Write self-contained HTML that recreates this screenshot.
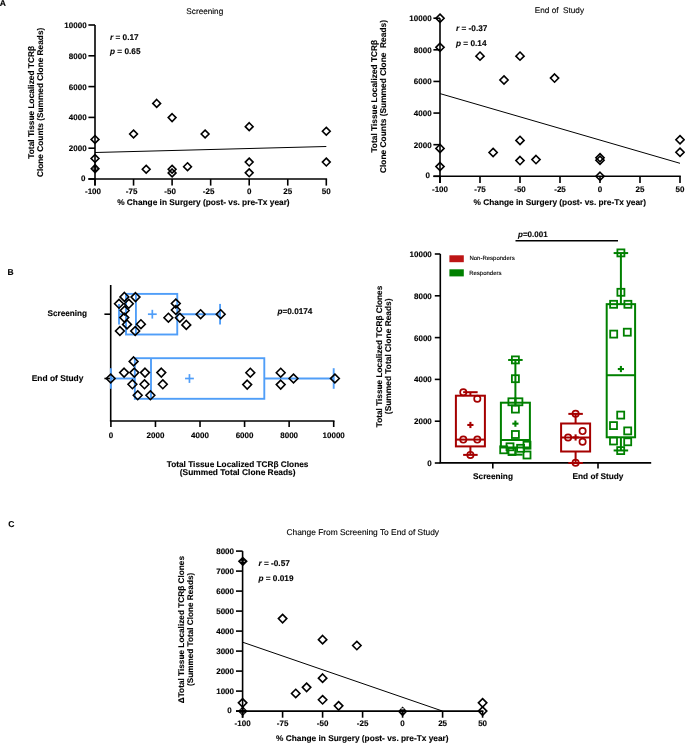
<!DOCTYPE html>
<html><head><meta charset="utf-8"><style>
html,body{margin:0;padding:0;background:#fff;}
svg{display:block;font-family:"Liberation Sans", sans-serif;will-change:transform;text-rendering:geometricPrecision;}
text{fill:#000;stroke:#000;stroke-width:0.12px;}
</style></head><body>
<svg width="685" height="743" viewBox="0 0 685 743">
<rect width="685" height="743" fill="#fff"/>
<text x="-0.3" y="5.6" font-size="8.5" font-weight="bold">A</text>
<line x1="95.00" y1="25.00" x2="95.00" y2="185.60" stroke="#000" stroke-width="1.6" stroke-linecap="butt"/>
<line x1="88.40" y1="179.00" x2="327.10" y2="179.00" stroke="#000" stroke-width="1.6" stroke-linecap="butt"/>
<line x1="88.40" y1="179.00" x2="95.00" y2="179.00" stroke="#000" stroke-width="1.6" stroke-linecap="butt"/>
<text x="85.40" y="181.30" font-size="8" font-weight="bold" text-anchor="end" >0</text>
<line x1="88.40" y1="148.20" x2="95.00" y2="148.20" stroke="#000" stroke-width="1.6" stroke-linecap="butt"/>
<text x="86.60" y="151.10" font-size="8" font-weight="bold" text-anchor="end" >2000</text>
<line x1="88.40" y1="117.40" x2="95.00" y2="117.40" stroke="#000" stroke-width="1.6" stroke-linecap="butt"/>
<text x="86.60" y="120.30" font-size="8" font-weight="bold" text-anchor="end" >4000</text>
<line x1="88.40" y1="86.60" x2="95.00" y2="86.60" stroke="#000" stroke-width="1.6" stroke-linecap="butt"/>
<text x="86.60" y="89.50" font-size="8" font-weight="bold" text-anchor="end" >6000</text>
<line x1="88.40" y1="55.80" x2="95.00" y2="55.80" stroke="#000" stroke-width="1.6" stroke-linecap="butt"/>
<text x="86.60" y="58.70" font-size="8" font-weight="bold" text-anchor="end" >8000</text>
<line x1="88.40" y1="25.00" x2="95.00" y2="25.00" stroke="#000" stroke-width="1.6" stroke-linecap="butt"/>
<text x="86.60" y="27.90" font-size="8" font-weight="bold" text-anchor="end" >10000</text>
<line x1="95.00" y1="179.00" x2="95.00" y2="185.60" stroke="#000" stroke-width="1.6" stroke-linecap="butt"/>
<text x="93.00" y="193.50" font-size="8" font-weight="bold" text-anchor="middle" >-100</text>
<line x1="133.55" y1="179.00" x2="133.55" y2="185.60" stroke="#000" stroke-width="1.6" stroke-linecap="butt"/>
<text x="131.55" y="193.50" font-size="8" font-weight="bold" text-anchor="middle" >-75</text>
<line x1="172.10" y1="179.00" x2="172.10" y2="185.60" stroke="#000" stroke-width="1.6" stroke-linecap="butt"/>
<text x="170.10" y="193.50" font-size="8" font-weight="bold" text-anchor="middle" >-50</text>
<line x1="210.65" y1="179.00" x2="210.65" y2="185.60" stroke="#000" stroke-width="1.6" stroke-linecap="butt"/>
<text x="208.65" y="193.50" font-size="8" font-weight="bold" text-anchor="middle" >-25</text>
<line x1="249.20" y1="179.00" x2="249.20" y2="185.60" stroke="#000" stroke-width="1.6" stroke-linecap="butt"/>
<text x="249.20" y="193.50" font-size="8" font-weight="bold" text-anchor="middle" >0</text>
<line x1="287.75" y1="179.00" x2="287.75" y2="185.60" stroke="#000" stroke-width="1.6" stroke-linecap="butt"/>
<text x="287.75" y="193.50" font-size="8" font-weight="bold" text-anchor="middle" >25</text>
<line x1="326.30" y1="179.00" x2="326.30" y2="185.60" stroke="#000" stroke-width="1.6" stroke-linecap="butt"/>
<text x="326.30" y="193.50" font-size="8" font-weight="bold" text-anchor="middle" >50</text>
<text x="117.20" y="204.80" font-size="8.3" font-weight="bold" text-anchor="start" >% Change in Surgery (post- vs. pre-Tx year)</text>
<text x="204.80" y="13.90" font-size="8.2" font-weight="normal" text-anchor="middle" >Screening</text>
<text x="0" y="0" font-size="8.35" font-weight="bold" text-anchor="middle" transform="translate(34.10,102.30) rotate(-90)">Total Tissue Localized TCRβ</text>
<text x="0" y="0" font-size="8.3" font-weight="bold" text-anchor="middle" transform="translate(42.90,102.40) rotate(-90)">Clone Counts (Summed Clone Reads)</text>
<text x="110.00" y="39.80" font-size="8.25" font-weight="bold" text-anchor="start" ><tspan font-style="italic">r</tspan> = 0.17</text>
<text x="110.00" y="54.30" font-size="8.25" font-weight="bold" text-anchor="start" ><tspan font-style="italic">p</tspan> = 0.65</text>
<line x1="95.00" y1="152.50" x2="326.30" y2="146.50" stroke="#000" stroke-width="1.0" stroke-linecap="butt"/>
<path d="M95.10 163.60L100.00 168.70L95.10 173.80L90.20 168.70Z" fill="#000"/>
<rect x="92.60" y="167.50" width="1.6" height="2.2" fill="#777"/>
<rect x="96.00" y="167.50" width="1.2" height="2.2" fill="#999"/>
<path d="M95.00 135.51L98.90 139.41L95.00 143.31L91.10 139.41Z" fill="none" stroke="#000" stroke-width="1.6" stroke-linejoin="miter"/>
<path d="M95.00 154.60L98.90 158.50L95.00 162.40L91.10 158.50Z" fill="none" stroke="#000" stroke-width="1.6" stroke-linejoin="miter"/>
<path d="M133.55 130.10L137.45 134.00L133.55 137.90L129.65 134.00Z" fill="none" stroke="#000" stroke-width="1.6" stroke-linejoin="miter"/>
<path d="M146.19 165.31L150.09 169.21L146.19 173.11L142.29 169.21Z" fill="none" stroke="#000" stroke-width="1.6" stroke-linejoin="miter"/>
<path d="M156.68 99.50L160.58 103.40L156.68 107.30L152.78 103.40Z" fill="none" stroke="#000" stroke-width="1.6" stroke-linejoin="miter"/>
<path d="M172.10 113.70L176.00 117.60L172.10 121.50L168.20 117.60Z" fill="none" stroke="#000" stroke-width="1.6" stroke-linejoin="miter"/>
<path d="M172.10 165.31L176.00 169.21L172.10 173.11L168.20 169.21Z" fill="none" stroke="#000" stroke-width="1.6" stroke-linejoin="miter"/>
<path d="M172.10 169.00L176.00 172.90L172.10 176.80L168.20 172.90Z" fill="none" stroke="#000" stroke-width="1.6" stroke-linejoin="miter"/>
<path d="M187.52 162.80L191.42 166.70L187.52 170.60L183.62 166.70Z" fill="none" stroke="#000" stroke-width="1.6" stroke-linejoin="miter"/>
<path d="M205.10 130.10L209.00 134.00L205.10 137.90L201.20 134.00Z" fill="none" stroke="#000" stroke-width="1.6" stroke-linejoin="miter"/>
<path d="M249.20 122.74L253.10 126.64L249.20 130.54L245.30 126.64Z" fill="none" stroke="#000" stroke-width="1.6" stroke-linejoin="miter"/>
<path d="M249.20 158.16L253.10 162.06L249.20 165.96L245.30 162.06Z" fill="none" stroke="#000" stroke-width="1.6" stroke-linejoin="miter"/>
<path d="M249.20 168.94L253.10 172.84L249.20 176.74L245.30 172.84Z" fill="none" stroke="#000" stroke-width="1.6" stroke-linejoin="miter"/>
<path d="M326.30 127.36L330.20 131.26L326.30 135.16L322.40 131.26Z" fill="none" stroke="#000" stroke-width="1.6" stroke-linejoin="miter"/>
<path d="M326.30 158.16L330.20 162.06L326.30 165.96L322.40 162.06Z" fill="none" stroke="#000" stroke-width="1.6" stroke-linejoin="miter"/>
<line x1="440.00" y1="18.20" x2="440.00" y2="182.90" stroke="#000" stroke-width="1.6" stroke-linecap="butt"/>
<line x1="433.40" y1="176.30" x2="680.80" y2="176.30" stroke="#000" stroke-width="1.6" stroke-linecap="butt"/>
<line x1="433.40" y1="176.30" x2="440.00" y2="176.30" stroke="#000" stroke-width="1.6" stroke-linecap="butt"/>
<text x="429.90" y="178.40" font-size="8" font-weight="bold" text-anchor="end" >0</text>
<line x1="433.40" y1="144.68" x2="440.00" y2="144.68" stroke="#000" stroke-width="1.6" stroke-linecap="butt"/>
<text x="431.60" y="147.58" font-size="8" font-weight="bold" text-anchor="end" >2000</text>
<line x1="433.40" y1="113.06" x2="440.00" y2="113.06" stroke="#000" stroke-width="1.6" stroke-linecap="butt"/>
<text x="431.60" y="115.96" font-size="8" font-weight="bold" text-anchor="end" >4000</text>
<line x1="433.40" y1="81.44" x2="440.00" y2="81.44" stroke="#000" stroke-width="1.6" stroke-linecap="butt"/>
<text x="431.60" y="84.34" font-size="8" font-weight="bold" text-anchor="end" >6000</text>
<line x1="433.40" y1="49.82" x2="440.00" y2="49.82" stroke="#000" stroke-width="1.6" stroke-linecap="butt"/>
<text x="431.60" y="52.72" font-size="8" font-weight="bold" text-anchor="end" >8000</text>
<line x1="433.40" y1="18.20" x2="440.00" y2="18.20" stroke="#000" stroke-width="1.6" stroke-linecap="butt"/>
<text x="431.60" y="21.10" font-size="8" font-weight="bold" text-anchor="end" >10000</text>
<line x1="440.00" y1="176.30" x2="440.00" y2="182.90" stroke="#000" stroke-width="1.6" stroke-linecap="butt"/>
<text x="440.00" y="191.70" font-size="8" font-weight="bold" text-anchor="middle" >-100</text>
<line x1="480.00" y1="176.30" x2="480.00" y2="182.90" stroke="#000" stroke-width="1.6" stroke-linecap="butt"/>
<text x="480.00" y="191.70" font-size="8" font-weight="bold" text-anchor="middle" >-75</text>
<line x1="520.00" y1="176.30" x2="520.00" y2="182.90" stroke="#000" stroke-width="1.6" stroke-linecap="butt"/>
<text x="520.00" y="191.70" font-size="8" font-weight="bold" text-anchor="middle" >-50</text>
<line x1="560.00" y1="176.30" x2="560.00" y2="182.90" stroke="#000" stroke-width="1.6" stroke-linecap="butt"/>
<text x="560.00" y="191.70" font-size="8" font-weight="bold" text-anchor="middle" >-25</text>
<line x1="600.00" y1="176.30" x2="600.00" y2="182.90" stroke="#000" stroke-width="1.6" stroke-linecap="butt"/>
<text x="600.00" y="191.70" font-size="8" font-weight="bold" text-anchor="middle" >0</text>
<line x1="640.00" y1="176.30" x2="640.00" y2="182.90" stroke="#000" stroke-width="1.6" stroke-linecap="butt"/>
<text x="640.00" y="191.70" font-size="8" font-weight="bold" text-anchor="middle" >25</text>
<line x1="680.00" y1="176.30" x2="680.00" y2="182.90" stroke="#000" stroke-width="1.6" stroke-linecap="butt"/>
<text x="680.00" y="191.70" font-size="8" font-weight="bold" text-anchor="middle" >50</text>
<text x="473.60" y="204.70" font-size="8.3" font-weight="bold" text-anchor="start" >% Change in Surgery (post- vs. pre-Tx year)</text>
<text x="559.40" y="12.80" font-size="8.2" font-weight="normal" text-anchor="middle" >End of &#160;Study</text>
<text x="0" y="0" font-size="8.35" font-weight="bold" text-anchor="middle" transform="translate(376.50,96.20) rotate(-90)">Total Tissue Localized TCRβ</text>
<text x="0" y="0" font-size="8.4" font-weight="bold" text-anchor="middle" transform="translate(385.60,96.55) rotate(-90)">Clone Counts (Summed Clone &#160;Reads)</text>
<text x="456.00" y="31.00" font-size="8.25" font-weight="bold" text-anchor="start" ><tspan font-style="italic">r</tspan> = -0.37</text>
<text x="456.00" y="46.30" font-size="8.25" font-weight="bold" text-anchor="start" ><tspan font-style="italic">p</tspan> = 0.14</text>
<line x1="440.00" y1="93.60" x2="680.00" y2="163.30" stroke="#000" stroke-width="1.0" stroke-linecap="butt"/>
<path d="M440.00 14.10L444.10 18.20L440.00 22.30L435.90 18.20Z" fill="none" stroke="#000" stroke-width="1.6" stroke-linejoin="miter"/>
<path d="M440.00 43.21L444.10 47.31L440.00 51.41L435.90 47.31Z" fill="none" stroke="#000" stroke-width="1.6" stroke-linejoin="miter"/>
<path d="M440.00 144.30L444.10 148.40L440.00 152.50L435.90 148.40Z" fill="none" stroke="#000" stroke-width="1.6" stroke-linejoin="miter"/>
<path d="M440.00 162.49L444.10 166.59L440.00 170.69L435.90 166.59Z" fill="none" stroke="#000" stroke-width="1.6" stroke-linejoin="miter"/>
<path d="M480.00 52.04L484.10 56.14L480.00 60.24L475.90 56.14Z" fill="none" stroke="#000" stroke-width="1.6" stroke-linejoin="miter"/>
<path d="M493.12 148.41L497.22 152.51L493.12 156.61L489.02 152.51Z" fill="none" stroke="#000" stroke-width="1.6" stroke-linejoin="miter"/>
<path d="M504.00 75.90L508.10 80.00L504.00 84.10L499.90 80.00Z" fill="none" stroke="#000" stroke-width="1.6" stroke-linejoin="miter"/>
<path d="M520.00 52.04L524.10 56.14L520.00 60.24L515.90 56.14Z" fill="none" stroke="#000" stroke-width="1.6" stroke-linejoin="miter"/>
<path d="M520.00 136.30L524.10 140.40L520.00 144.50L515.90 140.40Z" fill="none" stroke="#000" stroke-width="1.6" stroke-linejoin="miter"/>
<path d="M520.00 156.50L524.10 160.60L520.00 164.70L515.90 160.60Z" fill="none" stroke="#000" stroke-width="1.6" stroke-linejoin="miter"/>
<path d="M536.00 155.50L540.10 159.60L536.00 163.70L531.90 159.60Z" fill="none" stroke="#000" stroke-width="1.6" stroke-linejoin="miter"/>
<path d="M554.56 74.00L558.66 78.10L554.56 82.20L550.46 78.10Z" fill="none" stroke="#000" stroke-width="1.6" stroke-linejoin="miter"/>
<path d="M600.00 153.58L604.10 157.68L600.00 161.78L595.90 157.68Z" fill="none" stroke="#000" stroke-width="1.6" stroke-linejoin="miter"/>
<path d="M600.00 156.17L604.10 160.27L600.00 164.37L595.90 160.27Z" fill="none" stroke="#000" stroke-width="1.6" stroke-linejoin="miter"/>
<path d="M600.00 172.20L604.10 176.30L600.00 180.40L595.90 176.30Z" fill="none" stroke="#000" stroke-width="1.6" stroke-linejoin="miter"/>
<path d="M680.00 135.69L684.10 139.79L680.00 143.89L675.90 139.79Z" fill="none" stroke="#000" stroke-width="1.6" stroke-linejoin="miter"/>
<path d="M680.00 148.11L684.10 152.21L680.00 156.31L675.90 152.21Z" fill="none" stroke="#000" stroke-width="1.6" stroke-linejoin="miter"/>
<text x="7.40" y="274.90" font-size="8.5" font-weight="bold" text-anchor="start" >B</text>
<line x1="110.70" y1="285.00" x2="110.70" y2="421.00" stroke="#000" stroke-width="1.6" stroke-linecap="butt"/>
<line x1="109.90" y1="421.00" x2="334.50" y2="421.00" stroke="#000" stroke-width="1.6" stroke-linecap="butt"/>
<line x1="110.90" y1="421.00" x2="110.90" y2="427.00" stroke="#000" stroke-width="1.6" stroke-linecap="butt"/>
<text x="110.90" y="437.50" font-size="8" font-weight="bold" text-anchor="middle" >0</text>
<line x1="155.46" y1="421.00" x2="155.46" y2="427.00" stroke="#000" stroke-width="1.6" stroke-linecap="butt"/>
<text x="155.46" y="437.50" font-size="8" font-weight="bold" text-anchor="middle" >2000</text>
<line x1="200.02" y1="421.00" x2="200.02" y2="427.00" stroke="#000" stroke-width="1.6" stroke-linecap="butt"/>
<text x="200.02" y="437.50" font-size="8" font-weight="bold" text-anchor="middle" >4000</text>
<line x1="244.58" y1="421.00" x2="244.58" y2="427.00" stroke="#000" stroke-width="1.6" stroke-linecap="butt"/>
<text x="244.58" y="437.50" font-size="8" font-weight="bold" text-anchor="middle" >6000</text>
<line x1="289.14" y1="421.00" x2="289.14" y2="427.00" stroke="#000" stroke-width="1.6" stroke-linecap="butt"/>
<text x="289.14" y="437.50" font-size="8" font-weight="bold" text-anchor="middle" >8000</text>
<line x1="333.70" y1="421.00" x2="333.70" y2="427.00" stroke="#000" stroke-width="1.6" stroke-linecap="butt"/>
<text x="333.70" y="437.50" font-size="8" font-weight="bold" text-anchor="middle" >10000</text>
<line x1="104.40" y1="314.20" x2="110.70" y2="314.20" stroke="#000" stroke-width="1.6" stroke-linecap="butt"/>
<line x1="104.40" y1="378.50" x2="110.70" y2="378.50" stroke="#000" stroke-width="1.6" stroke-linecap="butt"/>
<text x="87.10" y="316.40" font-size="8.2" font-weight="bold" text-anchor="end" >Screening</text>
<text x="83.40" y="380.80" font-size="8.4" font-weight="bold" text-anchor="end" >End of Study</text>
<text x="237.60" y="466.70" font-size="8.28" font-weight="bold" text-anchor="middle" >Total Tissue Localized TCRβ Clones</text>
<text x="237.70" y="475.30" font-size="8.38" font-weight="bold" text-anchor="middle" >(Summed Total Clone Reads)</text>
<text x="277.50" y="313.90" font-size="8.2" font-weight="bold" text-anchor="start" ><tspan font-style="italic">p</tspan>=0.0174</text>
<rect x="126.01" y="293.90" width="51.24" height="40.60" fill="none" stroke="#509ef8" stroke-width="1.9"/>
<line x1="135.92" y1="293.90" x2="135.92" y2="334.50" stroke="#509ef8" stroke-width="1.9" stroke-linecap="butt"/>
<line x1="119.01" y1="314.20" x2="126.01" y2="314.20" stroke="#509ef8" stroke-width="1.9" stroke-linecap="butt"/>
<line x1="177.25" y1="314.20" x2="220.07" y2="314.20" stroke="#509ef8" stroke-width="1.9" stroke-linecap="butt"/>
<line x1="119.01" y1="303.90" x2="119.01" y2="324.50" stroke="#509ef8" stroke-width="1.9" stroke-linecap="butt"/>
<line x1="220.07" y1="303.90" x2="220.07" y2="324.50" stroke="#509ef8" stroke-width="1.9" stroke-linecap="butt"/>
<line x1="147.92" y1="314.20" x2="156.72" y2="314.20" stroke="#509ef8" stroke-width="1.7" stroke-linecap="butt"/>
<line x1="152.32" y1="309.80" x2="152.32" y2="318.60" stroke="#509ef8" stroke-width="1.7" stroke-linecap="butt"/>
<rect x="134.83" y="358.20" width="129.47" height="40.60" fill="none" stroke="#509ef8" stroke-width="1.9"/>
<line x1="151.00" y1="358.20" x2="151.00" y2="398.80" stroke="#509ef8" stroke-width="1.9" stroke-linecap="butt"/>
<line x1="110.90" y1="378.50" x2="134.83" y2="378.50" stroke="#509ef8" stroke-width="1.9" stroke-linecap="butt"/>
<line x1="264.30" y1="378.50" x2="333.70" y2="378.50" stroke="#509ef8" stroke-width="1.9" stroke-linecap="butt"/>
<line x1="110.90" y1="368.20" x2="110.90" y2="388.80" stroke="#509ef8" stroke-width="1.9" stroke-linecap="butt"/>
<line x1="333.70" y1="368.20" x2="333.70" y2="388.80" stroke="#509ef8" stroke-width="1.9" stroke-linecap="butt"/>
<line x1="185.06" y1="378.50" x2="193.86" y2="378.50" stroke="#509ef8" stroke-width="1.7" stroke-linecap="butt"/>
<line x1="189.46" y1="374.10" x2="189.46" y2="382.90" stroke="#509ef8" stroke-width="1.7" stroke-linecap="butt"/>
<path d="M124.40 292.50L128.80 296.90L124.40 301.30L120.00 296.90Z" fill="none" stroke="#000" stroke-width="1.6" stroke-linejoin="miter"/>
<path d="M135.50 292.70L139.90 297.10L135.50 301.50L131.10 297.10Z" fill="none" stroke="#000" stroke-width="1.6" stroke-linejoin="miter"/>
<path d="M119.00 299.40L123.40 303.80L119.00 308.20L114.60 303.80Z" fill="none" stroke="#000" stroke-width="1.6" stroke-linejoin="miter"/>
<path d="M128.80 299.40L133.20 303.80L128.80 308.20L124.40 303.80Z" fill="none" stroke="#000" stroke-width="1.6" stroke-linejoin="miter"/>
<path d="M124.70 306.10L129.10 310.50L124.70 314.90L120.30 310.50Z" fill="none" stroke="#000" stroke-width="1.6" stroke-linejoin="miter"/>
<path d="M124.30 313.20L128.70 317.60L124.30 322.00L119.90 317.60Z" fill="none" stroke="#000" stroke-width="1.6" stroke-linejoin="miter"/>
<path d="M127.00 320.00L131.40 324.40L127.00 328.80L122.60 324.40Z" fill="none" stroke="#000" stroke-width="1.6" stroke-linejoin="miter"/>
<path d="M140.90 319.80L145.30 324.20L140.90 328.60L136.50 324.20Z" fill="none" stroke="#000" stroke-width="1.6" stroke-linejoin="miter"/>
<path d="M119.90 326.60L124.30 331.00L119.90 335.40L115.50 331.00Z" fill="none" stroke="#000" stroke-width="1.6" stroke-linejoin="miter"/>
<path d="M135.20 326.60L139.60 331.00L135.20 335.40L130.80 331.00Z" fill="none" stroke="#000" stroke-width="1.6" stroke-linejoin="miter"/>
<path d="M175.80 299.10L180.20 303.50L175.80 307.90L171.40 303.50Z" fill="none" stroke="#000" stroke-width="1.6" stroke-linejoin="miter"/>
<path d="M175.80 305.60L180.20 310.00L175.80 314.40L171.40 310.00Z" fill="none" stroke="#000" stroke-width="1.6" stroke-linejoin="miter"/>
<path d="M168.40 313.30L172.80 317.70L168.40 322.10L164.00 317.70Z" fill="none" stroke="#000" stroke-width="1.6" stroke-linejoin="miter"/>
<path d="M179.80 313.30L184.20 317.70L179.80 322.10L175.40 317.70Z" fill="none" stroke="#000" stroke-width="1.6" stroke-linejoin="miter"/>
<path d="M186.30 320.50L190.70 324.90L186.30 329.30L181.90 324.90Z" fill="none" stroke="#000" stroke-width="1.6" stroke-linejoin="miter"/>
<path d="M200.60 309.80L205.00 314.20L200.60 318.60L196.20 314.20Z" fill="none" stroke="#000" stroke-width="1.6" stroke-linejoin="miter"/>
<path d="M220.70 309.80L225.10 314.20L220.70 318.60L216.30 314.20Z" fill="none" stroke="#000" stroke-width="1.6" stroke-linejoin="miter"/>
<path d="M133.60 357.00L138.00 361.40L133.60 365.80L129.20 361.40Z" fill="none" stroke="#000" stroke-width="1.6" stroke-linejoin="miter"/>
<path d="M124.10 368.20L128.50 372.60L124.10 377.00L119.70 372.60Z" fill="none" stroke="#000" stroke-width="1.6" stroke-linejoin="miter"/>
<path d="M134.30 368.20L138.70 372.60L134.30 377.00L129.90 372.60Z" fill="none" stroke="#000" stroke-width="1.6" stroke-linejoin="miter"/>
<path d="M145.00 368.20L149.40 372.60L145.00 377.00L140.60 372.60Z" fill="none" stroke="#000" stroke-width="1.6" stroke-linejoin="miter"/>
<path d="M161.30 368.20L165.70 372.60L161.30 377.00L156.90 372.60Z" fill="none" stroke="#000" stroke-width="1.6" stroke-linejoin="miter"/>
<path d="M110.70 374.10L115.10 378.50L110.70 382.90L106.30 378.50Z" fill="none" stroke="#000" stroke-width="1.6" stroke-linejoin="miter"/>
<path d="M132.40 379.90L136.80 384.30L132.40 388.70L128.00 384.30Z" fill="none" stroke="#000" stroke-width="1.6" stroke-linejoin="miter"/>
<path d="M144.50 379.90L148.90 384.30L144.50 388.70L140.10 384.30Z" fill="none" stroke="#000" stroke-width="1.6" stroke-linejoin="miter"/>
<path d="M162.80 379.90L167.20 384.30L162.80 388.70L158.40 384.30Z" fill="none" stroke="#000" stroke-width="1.6" stroke-linejoin="miter"/>
<path d="M137.70 390.90L142.10 395.30L137.70 399.70L133.30 395.30Z" fill="none" stroke="#000" stroke-width="1.6" stroke-linejoin="miter"/>
<path d="M150.40 390.90L154.80 395.30L150.40 399.70L146.00 395.30Z" fill="none" stroke="#000" stroke-width="1.6" stroke-linejoin="miter"/>
<path d="M250.30 368.30L254.70 372.70L250.30 377.10L245.90 372.70Z" fill="none" stroke="#000" stroke-width="1.6" stroke-linejoin="miter"/>
<path d="M247.20 380.20L251.60 384.60L247.20 389.00L242.80 384.60Z" fill="none" stroke="#000" stroke-width="1.6" stroke-linejoin="miter"/>
<path d="M280.70 368.30L285.10 372.70L280.70 377.10L276.30 372.70Z" fill="none" stroke="#000" stroke-width="1.6" stroke-linejoin="miter"/>
<path d="M280.70 380.20L285.10 384.60L280.70 389.00L276.30 384.60Z" fill="none" stroke="#000" stroke-width="1.6" stroke-linejoin="miter"/>
<path d="M293.50 374.10L297.90 378.50L293.50 382.90L289.10 378.50Z" fill="none" stroke="#000" stroke-width="1.6" stroke-linejoin="miter"/>
<path d="M334.90 374.10L339.30 378.50L334.90 382.90L330.50 378.50Z" fill="none" stroke="#000" stroke-width="1.6" stroke-linejoin="miter"/>
<line x1="440.30" y1="254.00" x2="440.30" y2="463.00" stroke="#000" stroke-width="1.6" stroke-linecap="butt"/>
<line x1="439.50" y1="462.90" x2="651.20" y2="462.90" stroke="#000" stroke-width="1.6" stroke-linecap="butt"/>
<line x1="434.80" y1="463.00" x2="440.30" y2="463.00" stroke="#000" stroke-width="1.6" stroke-linecap="butt"/>
<text x="431.80" y="465.90" font-size="8" font-weight="bold" text-anchor="end" >0</text>
<line x1="434.80" y1="421.20" x2="440.30" y2="421.20" stroke="#000" stroke-width="1.6" stroke-linecap="butt"/>
<text x="431.80" y="424.10" font-size="8" font-weight="bold" text-anchor="end" >2000</text>
<line x1="434.80" y1="379.40" x2="440.30" y2="379.40" stroke="#000" stroke-width="1.6" stroke-linecap="butt"/>
<text x="431.80" y="382.30" font-size="8" font-weight="bold" text-anchor="end" >4000</text>
<line x1="434.80" y1="337.60" x2="440.30" y2="337.60" stroke="#000" stroke-width="1.6" stroke-linecap="butt"/>
<text x="431.80" y="340.50" font-size="8" font-weight="bold" text-anchor="end" >6000</text>
<line x1="434.80" y1="295.80" x2="440.30" y2="295.80" stroke="#000" stroke-width="1.6" stroke-linecap="butt"/>
<text x="431.80" y="298.70" font-size="8" font-weight="bold" text-anchor="end" >8000</text>
<line x1="434.80" y1="254.00" x2="440.30" y2="254.00" stroke="#000" stroke-width="1.6" stroke-linecap="butt"/>
<text x="431.80" y="256.90" font-size="8" font-weight="bold" text-anchor="end" >10000</text>
<line x1="492.80" y1="462.90" x2="492.80" y2="468.60" stroke="#000" stroke-width="1.6" stroke-linecap="butt"/>
<line x1="598.00" y1="462.90" x2="598.00" y2="468.60" stroke="#000" stroke-width="1.6" stroke-linecap="butt"/>
<text x="493.00" y="478.60" font-size="8.25" font-weight="bold" text-anchor="middle" >Screening</text>
<text x="598.00" y="478.60" font-size="8.25" font-weight="bold" text-anchor="middle" >End of Study</text>
<text x="0" y="0" font-size="8.28" font-weight="bold" text-anchor="middle" transform="translate(381.90,356.50) rotate(-90)">Total Tissue Localized TCRβ Clones</text>
<text x="0" y="0" font-size="8.4" font-weight="bold" text-anchor="middle" transform="translate(390.90,356.30) rotate(-90)">(Summed Total Clone Reads)</text>
<rect x="449.4" y="255.3" width="14.4" height="6.9" fill="#bd1515"/>
<rect x="449.4" y="269.3" width="14.4" height="7.1" fill="#008000"/>
<text x="469.40" y="259.90" font-size="6.0" font-weight="normal" text-anchor="start" >Non-Responders</text>
<text x="469.20" y="274.90" font-size="6.0" font-weight="normal" text-anchor="start" >Responders</text>
<line x1="515.50" y1="240.70" x2="618.00" y2="240.70" stroke="#000" stroke-width="1.6" stroke-linecap="butt"/>
<text x="518.00" y="236.70" font-size="8" font-weight="bold" text-anchor="start" ><tspan font-style="italic">p</tspan>=0.001</text>
<rect x="455.90" y="395.70" width="29.00" height="50.70" fill="none" stroke="#a50000" stroke-width="2.0"/>
<line x1="455.90" y1="439.59" x2="484.90" y2="439.59" stroke="#a50000" stroke-width="2.0" stroke-linecap="butt"/>
<line x1="470.40" y1="395.70" x2="470.40" y2="392.19" stroke="#a50000" stroke-width="2.0" stroke-linecap="butt"/>
<line x1="470.40" y1="446.41" x2="470.40" y2="454.89" stroke="#a50000" stroke-width="2.0" stroke-linecap="butt"/>
<line x1="463.15" y1="392.19" x2="477.65" y2="392.19" stroke="#a50000" stroke-width="2.0" stroke-linecap="butt"/>
<line x1="463.15" y1="454.89" x2="477.65" y2="454.89" stroke="#a50000" stroke-width="2.0" stroke-linecap="butt"/>
<line x1="467.30" y1="424.98" x2="473.50" y2="424.98" stroke="#a50000" stroke-width="2.1" stroke-linecap="butt"/>
<line x1="470.40" y1="421.88" x2="470.40" y2="428.08" stroke="#a50000" stroke-width="2.1" stroke-linecap="butt"/>
<circle cx="463.30" cy="392.20" r="3.15" fill="none" stroke="#a50000" stroke-width="1.7"/>
<circle cx="477.30" cy="398.70" r="3.15" fill="none" stroke="#a50000" stroke-width="1.7"/>
<circle cx="463.30" cy="439.60" r="3.15" fill="none" stroke="#a50000" stroke-width="1.7"/>
<circle cx="477.30" cy="439.60" r="3.15" fill="none" stroke="#a50000" stroke-width="1.7"/>
<circle cx="470.40" cy="454.90" r="3.15" fill="none" stroke="#a50000" stroke-width="1.7"/>
<rect x="500.90" y="402.70" width="29.00" height="44.79" fill="none" stroke="#008000" stroke-width="2.0"/>
<line x1="500.90" y1="440.01" x2="529.90" y2="440.01" stroke="#008000" stroke-width="2.0" stroke-linecap="butt"/>
<line x1="515.40" y1="402.70" x2="515.40" y2="359.96" stroke="#008000" stroke-width="2.0" stroke-linecap="butt"/>
<line x1="515.40" y1="447.49" x2="515.40" y2="454.64" stroke="#008000" stroke-width="2.0" stroke-linecap="butt"/>
<line x1="508.15" y1="359.96" x2="522.65" y2="359.96" stroke="#008000" stroke-width="2.0" stroke-linecap="butt"/>
<line x1="508.15" y1="454.64" x2="522.65" y2="454.64" stroke="#008000" stroke-width="2.0" stroke-linecap="butt"/>
<line x1="512.30" y1="423.65" x2="518.50" y2="423.65" stroke="#008000" stroke-width="2.1" stroke-linecap="butt"/>
<line x1="515.40" y1="420.55" x2="515.40" y2="426.75" stroke="#008000" stroke-width="2.1" stroke-linecap="butt"/>
<rect x="511.90" y="356.40" width="7" height="7" fill="none" stroke="#008000" stroke-width="1.8"/>
<rect x="511.90" y="375.20" width="7" height="7" fill="none" stroke="#008000" stroke-width="1.8"/>
<rect x="508.40" y="398.30" width="7" height="7" fill="none" stroke="#008000" stroke-width="1.8"/>
<rect x="515.40" y="398.30" width="7" height="7" fill="none" stroke="#008000" stroke-width="1.8"/>
<rect x="511.90" y="405.60" width="7" height="7" fill="none" stroke="#008000" stroke-width="1.8"/>
<rect x="511.90" y="431.00" width="7" height="7" fill="none" stroke="#008000" stroke-width="1.8"/>
<rect x="523.50" y="441.70" width="7" height="7" fill="none" stroke="#008000" stroke-width="1.8"/>
<rect x="506.50" y="443.30" width="7" height="7" fill="none" stroke="#008000" stroke-width="1.8"/>
<rect x="517.10" y="444.80" width="7" height="7" fill="none" stroke="#008000" stroke-width="1.8"/>
<rect x="500.20" y="446.30" width="7" height="7" fill="none" stroke="#008000" stroke-width="1.8"/>
<rect x="508.50" y="448.00" width="7" height="7" fill="none" stroke="#008000" stroke-width="1.8"/>
<rect x="523.50" y="451.50" width="7" height="7" fill="none" stroke="#008000" stroke-width="1.8"/>
<rect x="561.10" y="423.50" width="29.00" height="28.01" fill="none" stroke="#a50000" stroke-width="2.0"/>
<line x1="561.10" y1="437.50" x2="590.10" y2="437.50" stroke="#a50000" stroke-width="2.0" stroke-linecap="butt"/>
<line x1="575.60" y1="423.50" x2="575.60" y2="413.88" stroke="#a50000" stroke-width="2.0" stroke-linecap="butt"/>
<line x1="575.60" y1="451.50" x2="575.60" y2="463.00" stroke="#a50000" stroke-width="2.0" stroke-linecap="butt"/>
<line x1="568.35" y1="413.88" x2="582.85" y2="413.88" stroke="#a50000" stroke-width="2.0" stroke-linecap="butt"/>
<line x1="568.35" y1="463.00" x2="582.85" y2="463.00" stroke="#a50000" stroke-width="2.0" stroke-linecap="butt"/>
<line x1="572.50" y1="437.46" x2="578.70" y2="437.46" stroke="#a50000" stroke-width="2.1" stroke-linecap="butt"/>
<line x1="575.60" y1="434.36" x2="575.60" y2="440.56" stroke="#a50000" stroke-width="2.1" stroke-linecap="butt"/>
<circle cx="575.60" cy="413.80" r="3.15" fill="none" stroke="#a50000" stroke-width="1.7"/>
<circle cx="582.60" cy="431.10" r="3.15" fill="none" stroke="#a50000" stroke-width="1.7"/>
<circle cx="568.10" cy="437.50" r="3.15" fill="none" stroke="#a50000" stroke-width="1.7"/>
<circle cx="582.60" cy="441.80" r="3.15" fill="none" stroke="#a50000" stroke-width="1.7"/>
<circle cx="575.60" cy="462.80" r="3.15" fill="none" stroke="#a50000" stroke-width="1.7"/>
<rect x="606.70" y="304.16" width="28.40" height="133.13" fill="none" stroke="#008000" stroke-width="2.0"/>
<line x1="606.70" y1="375.22" x2="635.10" y2="375.22" stroke="#008000" stroke-width="2.0" stroke-linecap="butt"/>
<line x1="620.90" y1="304.16" x2="620.90" y2="253.06" stroke="#008000" stroke-width="2.0" stroke-linecap="butt"/>
<line x1="620.90" y1="437.29" x2="620.90" y2="450.46" stroke="#008000" stroke-width="2.0" stroke-linecap="butt"/>
<line x1="613.65" y1="253.06" x2="628.15" y2="253.06" stroke="#008000" stroke-width="2.0" stroke-linecap="butt"/>
<line x1="613.65" y1="450.46" x2="628.15" y2="450.46" stroke="#008000" stroke-width="2.0" stroke-linecap="butt"/>
<line x1="617.80" y1="369.03" x2="624.00" y2="369.03" stroke="#008000" stroke-width="2.1" stroke-linecap="butt"/>
<line x1="620.90" y1="365.93" x2="620.90" y2="372.13" stroke="#008000" stroke-width="2.1" stroke-linecap="butt"/>
<rect x="617.40" y="249.40" width="7" height="7" fill="none" stroke="#008000" stroke-width="1.8"/>
<rect x="617.40" y="288.80" width="7" height="7" fill="none" stroke="#008000" stroke-width="1.8"/>
<rect x="610.10" y="300.80" width="7" height="7" fill="none" stroke="#008000" stroke-width="1.8"/>
<rect x="624.40" y="300.80" width="7" height="7" fill="none" stroke="#008000" stroke-width="1.8"/>
<rect x="610.20" y="330.60" width="7" height="7" fill="none" stroke="#008000" stroke-width="1.8"/>
<rect x="623.80" y="328.70" width="7" height="7" fill="none" stroke="#008000" stroke-width="1.8"/>
<rect x="617.20" y="411.60" width="7" height="7" fill="none" stroke="#008000" stroke-width="1.8"/>
<rect x="610.00" y="422.10" width="7" height="7" fill="none" stroke="#008000" stroke-width="1.8"/>
<rect x="624.20" y="427.40" width="7" height="7" fill="none" stroke="#008000" stroke-width="1.8"/>
<rect x="610.00" y="437.50" width="7" height="7" fill="none" stroke="#008000" stroke-width="1.8"/>
<rect x="624.20" y="438.30" width="7" height="7" fill="none" stroke="#008000" stroke-width="1.8"/>
<rect x="617.20" y="447.10" width="7" height="7" fill="none" stroke="#008000" stroke-width="1.8"/>
<text x="8.30" y="526.50" font-size="8.5" font-weight="bold" text-anchor="start" >C</text>
<line x1="242.60" y1="551.10" x2="242.60" y2="717.70" stroke="#000" stroke-width="1.6" stroke-linecap="butt"/>
<line x1="236.00" y1="711.10" x2="483.40" y2="711.10" stroke="#000" stroke-width="1.6" stroke-linecap="butt"/>
<line x1="236.00" y1="711.10" x2="242.60" y2="711.10" stroke="#000" stroke-width="1.6" stroke-linecap="butt"/>
<text x="231.70" y="713.30" font-size="8" font-weight="bold" text-anchor="end" >0</text>
<line x1="236.00" y1="691.10" x2="242.60" y2="691.10" stroke="#000" stroke-width="1.6" stroke-linecap="butt"/>
<text x="234.00" y="694.00" font-size="8" font-weight="bold" text-anchor="end" >1000</text>
<line x1="236.00" y1="671.10" x2="242.60" y2="671.10" stroke="#000" stroke-width="1.6" stroke-linecap="butt"/>
<text x="234.00" y="674.00" font-size="8" font-weight="bold" text-anchor="end" >2000</text>
<line x1="236.00" y1="651.10" x2="242.60" y2="651.10" stroke="#000" stroke-width="1.6" stroke-linecap="butt"/>
<text x="234.00" y="654.00" font-size="8" font-weight="bold" text-anchor="end" >3000</text>
<line x1="236.00" y1="631.10" x2="242.60" y2="631.10" stroke="#000" stroke-width="1.6" stroke-linecap="butt"/>
<text x="234.00" y="634.00" font-size="8" font-weight="bold" text-anchor="end" >4000</text>
<line x1="236.00" y1="611.10" x2="242.60" y2="611.10" stroke="#000" stroke-width="1.6" stroke-linecap="butt"/>
<text x="234.00" y="614.00" font-size="8" font-weight="bold" text-anchor="end" >5000</text>
<line x1="236.00" y1="591.10" x2="242.60" y2="591.10" stroke="#000" stroke-width="1.6" stroke-linecap="butt"/>
<text x="234.00" y="594.00" font-size="8" font-weight="bold" text-anchor="end" >6000</text>
<line x1="236.00" y1="571.10" x2="242.60" y2="571.10" stroke="#000" stroke-width="1.6" stroke-linecap="butt"/>
<text x="234.00" y="574.00" font-size="8" font-weight="bold" text-anchor="end" >7000</text>
<line x1="236.00" y1="551.10" x2="242.60" y2="551.10" stroke="#000" stroke-width="1.6" stroke-linecap="butt"/>
<text x="234.00" y="554.00" font-size="8" font-weight="bold" text-anchor="end" >8000</text>
<line x1="242.60" y1="711.10" x2="242.60" y2="717.70" stroke="#000" stroke-width="1.6" stroke-linecap="butt"/>
<text x="242.60" y="725.90" font-size="8" font-weight="bold" text-anchor="middle" >-100</text>
<line x1="282.60" y1="711.10" x2="282.60" y2="717.70" stroke="#000" stroke-width="1.6" stroke-linecap="butt"/>
<text x="282.60" y="725.90" font-size="8" font-weight="bold" text-anchor="middle" >-75</text>
<line x1="322.60" y1="711.10" x2="322.60" y2="717.70" stroke="#000" stroke-width="1.6" stroke-linecap="butt"/>
<text x="322.60" y="725.90" font-size="8" font-weight="bold" text-anchor="middle" >-50</text>
<line x1="362.60" y1="711.10" x2="362.60" y2="717.70" stroke="#000" stroke-width="1.6" stroke-linecap="butt"/>
<text x="362.60" y="725.90" font-size="8" font-weight="bold" text-anchor="middle" >-25</text>
<line x1="402.60" y1="711.10" x2="402.60" y2="717.70" stroke="#000" stroke-width="1.6" stroke-linecap="butt"/>
<text x="402.60" y="725.90" font-size="8" font-weight="bold" text-anchor="middle" >0</text>
<line x1="442.60" y1="711.10" x2="442.60" y2="717.70" stroke="#000" stroke-width="1.6" stroke-linecap="butt"/>
<text x="442.60" y="725.90" font-size="8" font-weight="bold" text-anchor="middle" >25</text>
<line x1="482.60" y1="711.10" x2="482.60" y2="717.70" stroke="#000" stroke-width="1.6" stroke-linecap="butt"/>
<text x="482.60" y="725.90" font-size="8" font-weight="bold" text-anchor="middle" >50</text>
<text x="276.10" y="740.80" font-size="8.3" font-weight="bold" text-anchor="start" >% Change in Surgery (post- vs. pre-Tx year)</text>
<text x="362.75" y="535.30" font-size="8.38" font-weight="normal" text-anchor="middle" >Change From Screening To End of Study</text>
<text x="0" y="0" font-size="8.25" font-weight="bold" text-anchor="middle" transform="translate(183.80,629.60) rotate(-90)">ΔTotal Tissue Localized TCRβ Clones</text>
<text x="0" y="0" font-size="8.2" font-weight="bold" text-anchor="middle" transform="translate(193.20,629.40) rotate(-90)">(Summed Total Clone Reads)</text>
<text x="258.40" y="565.50" font-size="8.25" font-weight="bold" text-anchor="start" ><tspan font-style="italic">r</tspan> = -0.57</text>
<text x="258.40" y="580.90" font-size="8.25" font-weight="bold" text-anchor="start" ><tspan font-style="italic">p</tspan> = 0.019</text>
<line x1="242.60" y1="642.20" x2="442.60" y2="711.10" stroke="#000" stroke-width="1.0" stroke-linecap="butt"/>
<path d="M242.80 556.40L247.80 561.30L242.80 566.20L237.80 561.30Z" fill="#000"/>
<rect x="240.50" y="560.80" width="1.0" height="1.0" fill="#ddd"/>
<rect x="243.60" y="560.80" width="1.4" height="1.0" fill="#bbb"/>
<path d="M242.75 706.30L247.55 711.20L242.75 716.10L237.95 711.20Z" fill="#000"/>
<rect x="240.60" y="709.00" width="1.2" height="1.0" fill="#666"/>
<rect x="243.40" y="709.00" width="1.2" height="1.0" fill="#666"/>
<rect x="240.60" y="712.60" width="1.2" height="0.9" fill="#888"/>
<rect x="243.40" y="712.60" width="1.2" height="0.9" fill="#888"/>
<path d="M402.60 706.40L407.30 711.40L402.60 716.40L397.90 711.40Z" fill="#000"/>
<rect x="401.30" y="708.20" width="2.4" height="1.2" fill="#eee"/>
<rect x="400.80" y="712.00" width="1.0" height="1.0" fill="#777"/>
<rect x="403.40" y="712.00" width="1.0" height="1.0" fill="#777"/>
<path d="M242.60 698.64L246.80 702.84L242.60 707.04L238.40 702.84Z" fill="none" stroke="#000" stroke-width="1.6" stroke-linejoin="miter"/>
<path d="M282.60 614.36L286.80 618.56L282.60 622.76L278.40 618.56Z" fill="none" stroke="#000" stroke-width="1.6" stroke-linejoin="miter"/>
<path d="M322.60 635.46L326.80 639.66L322.60 643.86L318.40 639.66Z" fill="none" stroke="#000" stroke-width="1.6" stroke-linejoin="miter"/>
<path d="M356.84 641.32L361.04 645.52L356.84 649.72L352.64 645.52Z" fill="none" stroke="#000" stroke-width="1.6" stroke-linejoin="miter"/>
<path d="M322.60 673.96L326.80 678.16L322.60 682.36L318.40 678.16Z" fill="none" stroke="#000" stroke-width="1.6" stroke-linejoin="miter"/>
<path d="M306.60 683.12L310.80 687.32L306.60 691.52L302.40 687.32Z" fill="none" stroke="#000" stroke-width="1.6" stroke-linejoin="miter"/>
<path d="M295.72 689.28L299.92 693.48L295.72 697.68L291.52 693.48Z" fill="none" stroke="#000" stroke-width="1.6" stroke-linejoin="miter"/>
<path d="M322.60 695.56L326.80 699.76L322.60 703.96L318.40 699.76Z" fill="none" stroke="#000" stroke-width="1.6" stroke-linejoin="miter"/>
<path d="M338.60 701.62L342.80 705.82L338.60 710.02L334.40 705.82Z" fill="none" stroke="#000" stroke-width="1.6" stroke-linejoin="miter"/>
<path d="M482.60 698.66L486.80 702.86L482.60 707.06L478.40 702.86Z" fill="none" stroke="#000" stroke-width="1.6" stroke-linejoin="miter"/>
<path d="M482.60 706.90L486.80 711.10L482.60 715.30L478.40 711.10Z" fill="none" stroke="#000" stroke-width="1.6" stroke-linejoin="miter"/>
</svg></body></html>
